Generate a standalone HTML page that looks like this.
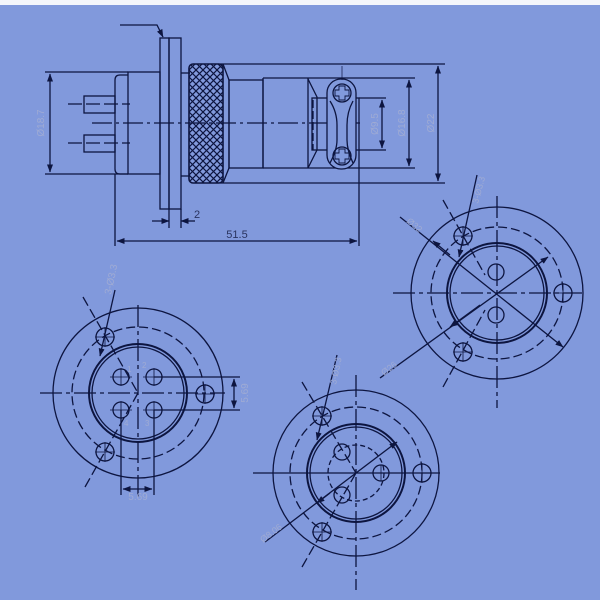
<!DOCTYPE html>
<html><head><meta charset="utf-8"><style>
html,body{margin:0;padding:0;background:#fff}
svg{display:block}
text{font-family:"Liberation Sans",sans-serif}
</style></head><body>
<svg width="600" height="600" viewBox="0 0 600 600" xmlns="http://www.w3.org/2000/svg">
<defs>
<marker id="a" markerWidth="8" markerHeight="6" refX="7.5" refY="3" orient="auto-start-reverse" markerUnits="userSpaceOnUse"><path d="M0,0 L8,3 L0,6 z" fill="#0d1540"/></marker>
<pattern id="kn" width="7" height="7" patternUnits="userSpaceOnUse"><path d="M0,0 L7,7 M7,0 L0,7" stroke="#0d1540" stroke-width="1.2"/></pattern>
</defs>
<rect x="0" y="0" width="600" height="600" fill="#8199dc"/>
<rect x="0" y="0" width="600" height="5" fill="#f4f6fb"/>
<g fill="none" stroke="#0d1540" stroke-width="1.3">
<polyline points="120,25 157,25 163,37" marker-end="url(#a)"/>
<rect x="160" y="38" width="9" height="171"/>
<rect x="169" y="38" width="12" height="171"/>
<path d="M128,75 L120,75 Q115,75 115,80 L115,169 Q115,174 120,174 L128,174"/>
<rect x="128" y="72" width="32" height="102"/>
<line x1="45" y1="72" x2="128" y2="72"/><line x1="45" y1="174" x2="128" y2="174"/>
<line x1="50" y1="74" x2="50" y2="172" marker-start="url(#a)" marker-end="url(#a)"/>
<rect x="84" y="96" width="31" height="17"/>
<rect x="84" y="135" width="31" height="17"/>
<line x1="68" y1="104" x2="130" y2="104" stroke-dasharray="14,4"/>
<line x1="68" y1="143" x2="130" y2="143" stroke-dasharray="14,4"/>
<line x1="92" y1="123" x2="360" y2="123" stroke-dasharray="20,4,3,4"/>
<line x1="181" y1="73" x2="190" y2="73"/><line x1="181" y1="176" x2="190" y2="176"/>
<rect x="189" y="64" width="34" height="119" rx="4" fill="url(#kn)" stroke-width="1.6"/>
<polyline points="223,64 229,80 229,168 223,183"/>
<rect x="229" y="80" width="34" height="88"/>
<line x1="263" y1="78" x2="415" y2="78"/><line x1="263" y1="168" x2="415" y2="168"/>
<line x1="263" y1="78" x2="263" y2="168"/>
<line x1="220" y1="64" x2="445" y2="64"/><line x1="220" y1="183" x2="445" y2="183"/>
<line x1="308" y1="78" x2="308" y2="168"/>
<polyline points="308,79 317,97 317,150 308,168"/>
<line x1="313" y1="100" x2="313" y2="150" stroke-dasharray="8,3"/>
<rect x="312" y="98" width="47" height="52"/>
<rect x="327" y="79" width="29" height="90" rx="14" fill="#8199dc"/>
<path d="M330,101 Q337,112 337,125 L337,140 Q337,150 330,163 M353,101 Q347,112 347,125 L347,140 Q347,150 353,163"/>
<circle cx="342" cy="93" r="9"/><circle cx="342" cy="156" r="9"/>
<path d="M339,86 h6 v4 h4 v6 h-4 v4 h-6 v-4 h-4 v-6 h4 z M339,149 h6 v4 h4 v6 h-4 v4 h-6 v-4 h-4 v-6 h4 z" stroke-width="0.9"/>
<line x1="342" y1="66" x2="342" y2="80" stroke-width="0.7"/>
<line x1="359" y1="98" x2="386" y2="98"/><line x1="359" y1="150" x2="386" y2="150"/>
<line x1="382" y1="100" x2="382" y2="148" marker-start="url(#a)" marker-end="url(#a)"/>
<line x1="409" y1="80" x2="409" y2="166" marker-start="url(#a)" marker-end="url(#a)"/>
<line x1="438" y1="66" x2="438" y2="181" marker-start="url(#a)" marker-end="url(#a)"/>
<line x1="169" y1="209" x2="169" y2="228"/><line x1="181" y1="209" x2="181" y2="228"/>
<line x1="152" y1="221" x2="169" y2="221" marker-end="url(#a)"/><line x1="195" y1="221" x2="181" y2="221" marker-end="url(#a)"/>
<line x1="115" y1="174" x2="115" y2="246"/><line x1="359" y1="150" x2="359" y2="246"/>
<line x1="117" y1="241" x2="357" y2="241" marker-start="url(#a)" marker-end="url(#a)"/>

<circle cx="138" cy="393" r="85"/>
<circle cx="138" cy="393" r="66" stroke-dasharray="9,4"/>
<circle cx="138" cy="393" r="49" stroke-width="2"/>
<circle cx="138" cy="393" r="46"/>
<line x1="40" y1="393" x2="225" y2="393" stroke-dasharray="22,4,4,4"/>
<line x1="138" y1="305" x2="138" y2="500" stroke-dasharray="22,4,4,4"/>
<g><circle cx="121" cy="377" r="8"/><circle cx="154" cy="377" r="8"/><circle cx="121" cy="410" r="8"/><circle cx="154" cy="410" r="8"/>
<circle cx="105" cy="337" r="9"/><circle cx="105" cy="452" r="9"/><circle cx="205" cy="394" r="9"/></g>
<path d="M110,377 h22 M143,377 h22 M110,410 h22 M143,410 h22 M121,368 v18 M154,368 v18 M121,401 v18 M154,401 v18 M95,337 h20 M105,327 v20 M95,452 h20 M105,442 v20 M195,394 h20 M205,384 v20" stroke-width="0.8"/>
<line x1="83" y1="297" x2="138" y2="393" stroke-dasharray="10,4"/>
<line x1="85" y1="487" x2="138" y2="393" stroke-dasharray="10,4"/>
<line x1="115" y1="290" x2="100" y2="356" marker-end="url(#a)"/>
<line x1="154" y1="377" x2="240" y2="377"/><line x1="154" y1="410" x2="240" y2="410"/>
<line x1="234" y1="379" x2="234" y2="408" marker-start="url(#a)" marker-end="url(#a)"/>
<line x1="121" y1="410" x2="121" y2="495"/><line x1="154" y1="410" x2="154" y2="495"/>
<line x1="123" y1="489" x2="152" y2="489" marker-start="url(#a)" marker-end="url(#a)"/>

<circle cx="497" cy="293" r="86"/>
<circle cx="497" cy="293" r="66" stroke-dasharray="9,4"/>
<circle cx="497" cy="293" r="50" stroke-width="2"/>
<circle cx="497" cy="293" r="47"/>
<line x1="393" y1="293" x2="582" y2="293" stroke-dasharray="22,4,4,4"/>
<line x1="497" y1="196" x2="497" y2="408" stroke-dasharray="22,4,4,4"/>
<circle cx="496" cy="272" r="8"/><circle cx="496" cy="315" r="8"/>
<circle cx="463" cy="236" r="9"/><circle cx="463" cy="352" r="9"/><circle cx="563" cy="293" r="9"/>
<path d="M453,236 h20 M463,226 v20 M453,352 h20 M463,342 v20 M553,293 h20 M563,283 v20" stroke-width="0.8"/>
<line x1="400" y1="217" x2="563" y2="347" marker-end="url(#a)"/>
<line x1="450" y1="255" x2="433" y2="241" marker-end="url(#a)"/>
<line x1="380" y1="378" x2="548" y2="257" marker-end="url(#a)"/>
<line x1="480" y1="305" x2="450" y2="327" marker-end="url(#a)"/>
<line x1="477" y1="175" x2="459" y2="257" marker-end="url(#a)"/>
<line x1="443" y1="200" x2="485" y2="275" stroke-dasharray="10,4"/>
<line x1="443" y1="387" x2="485" y2="310" stroke-dasharray="10,4"/>

<circle cx="356" cy="473" r="83"/>
<circle cx="356" cy="473" r="66" stroke-dasharray="9,4"/>
<circle cx="356" cy="473" r="49" stroke-width="2"/>
<circle cx="356" cy="473" r="46"/>
<circle cx="356" cy="473" r="28" stroke-dasharray="5,3"/>
<line x1="253" y1="473" x2="440" y2="473"/>
<line x1="356" y1="375" x2="356" y2="590" stroke-dasharray="22,4,4,4"/>
<circle cx="342" cy="452" r="8"/><circle cx="381" cy="473" r="8"/><circle cx="342" cy="495" r="8"/>
<circle cx="322" cy="416" r="9"/><circle cx="322" cy="532" r="9"/><circle cx="422" cy="473" r="9"/>
<path d="M312,416 h20 M322,406 v20 M312,532 h20 M322,522 v20 M412,473 h20 M422,463 v20 M381,465 v16" stroke-width="0.8"/>
<line x1="265" y1="542" x2="397" y2="442" marker-end="url(#a)"/>
<line x1="330" y1="493" x2="317" y2="503" marker-end="url(#a)"/>
<line x1="337" y1="355" x2="317" y2="440" marker-end="url(#a)"/>
<line x1="302" y1="382" x2="356" y2="473" stroke-dasharray="10,4"/>
<line x1="302" y1="567" x2="356" y2="473" stroke-dasharray="10,4"/>
</g>
<g fill="#2a3460" font-size="10">
<text x="0" y="0" transform="translate(44,123) rotate(-90)" text-anchor="middle" fill="#9fabd4">Ø18.7</text>
<text x="0" y="0" transform="translate(378,124) rotate(-90)" text-anchor="middle" fill="#9fabd4">Ø9.5</text>
<text x="0" y="0" transform="translate(405,123) rotate(-90)" text-anchor="middle" fill="#9fabd4">Ø16.8</text>
<text x="0" y="0" transform="translate(434,123) rotate(-90)" text-anchor="middle" fill="#9fabd4">Ø22</text>
<text x="194" y="218" font-size="11">2</text>
<text x="237" y="238" font-size="11" text-anchor="middle">51.5</text>
<text x="0" y="0" transform="translate(111,295) rotate(-78)" fill="#9fabd4">3-Ø3.3</text>
<text x="0" y="0" transform="translate(248,393) rotate(-90)" text-anchor="middle" fill="#9fabd4">5.69</text>
<text x="138" y="500" text-anchor="middle" fill="#9fabd4">5.69</text>
<text x="127" y="372" font-size="8" fill="#9fabd4">1</text><text x="142" y="368" font-size="8" fill="#9fabd4">2</text>
<text x="145" y="426" font-size="8" fill="#9fabd4">3</text><text x="124" y="426" font-size="8" fill="#9fabd4">4</text>
<text x="0" y="0" transform="translate(406,222) rotate(40)" font-size="9" fill="#9fabd4">Ø32</text>
<text x="0" y="0" transform="translate(478,204) rotate(-75)" font-size="9" fill="#9fabd4">3-Ø3.3</text>
<text x="0" y="0" transform="translate(384,376) rotate(-37)" font-size="9" fill="#9fabd4">Ø26</text>
<text x="0" y="0" transform="translate(336,385) rotate(-78)" font-size="9" fill="#9fabd4">3-Ø3.3</text>
<text x="0" y="0" transform="translate(263,543) rotate(-37)" font-size="9" fill="#9fabd4">Ø8.06</text>
</g>
</svg>
</body></html>
